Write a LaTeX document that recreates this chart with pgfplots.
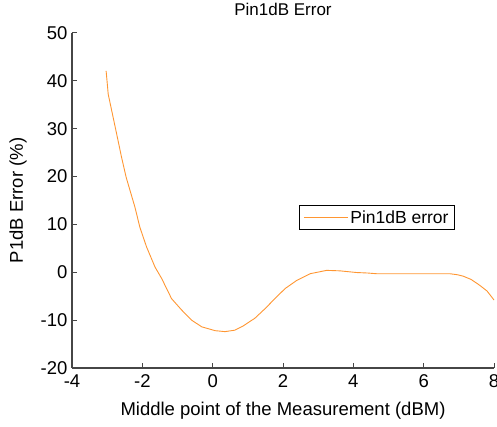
\documentclass[border=0pt]{standalone}
\usepackage{pgfplots}
\pgfplotsset{compat=1.18}
\usepackage{fontspec}
\setmainfont{Liberation Sans}
\definecolor{curve}{RGB}{255,150,50}
\definecolor{axc}{RGB}{70,70,70}
\begin{document}
\begin{tikzpicture}[x=1pt,y=1pt]
\begin{axis}[
  at={(0pt,0pt)}, anchor=south west,
  scale only axis,
  width=422pt, height=335pt,
  xmin=-4, xmax=8, ymin=-20, ymax=50,
  xtick={-4,-2,0,2,4,6,8},
  ytick={-20,-10,0,10,20,30,40,50},
  axis lines=left,
  axis line style={axc, line width=1.6pt, -},
  tick style={axc, line width=1pt},
  major tick length=5pt,
  tick align=inside,
  tick label style={font=\fontsize{18.5}{20}\selectfont, black},
  /pgf/number format/assume math mode=true,
  xticklabel style={yshift=-3pt},
  yticklabel style={xshift=-1pt},
  title={Pin1dB Error},
  title style={font=\fontsize{17}{19}\selectfont, at={(axis description cs:0.5,1)}, anchor=center, yshift=18pt},
  xlabel={Middle point of the Measurement (dBM)},
  ylabel={P1dB Error (\%)},
  label style={font=\fontsize{18.5}{20}\selectfont},
  xlabel style={at={(axis description cs:0.5,0)}, anchor=center, yshift=-43pt},
  ylabel style={at={(axis description cs:0,0.5)}, anchor=center, yshift=54pt},
  legend style={at={(0.538,0.4866)}, anchor=north west, draw=black, line width=0.8pt,
    font=\fontsize{17.5}{19}\selectfont, inner xsep=4pt, inner ysep=3pt, row sep=0pt},
  legend cell align=left,
  legend image code/.code={\draw[#1, line width=0.9pt] (0pt,0pt) -- (44pt,0pt);},
  clip=false,
]
\addplot[curve, line width=0.9pt] coordinates {
(-3.03,42.1) (-2.97,37.2) (-2.87,33.75) (-2.73,28.9) (-2.59,24.0) (-2.46,19.85)
(-2.35,17.1) (-2.21,13.6) (-2.07,9.4) (-1.88,5.3) (-1.64,1.1) (-1.45,-1.3)
(-1.17,-5.5) (-0.88,-7.9) (-0.60,-10.0) (-0.31,-11.4) (0.07,-12.2) (0.35,-12.4)
(0.63,-12.1) (0.87,-11.2) (1.20,-9.6) (1.49,-7.6) (1.77,-5.5) (2.06,-3.4)
(2.39,-1.7) (2.77,-0.3) (3.24,0.4) (3.62,0.3) (4.09,-0.05)
(4.40,-0.15) (4.66,-0.3) (5.20,-0.3) (5.80,-0.3) (6.30,-0.3) (6.74,-0.3) (6.95,-0.5)
(7.12,-0.8) (7.35,-1.5) (7.59,-2.7) (7.80,-3.9) (7.97,-5.5) (8.00,-5.8)
};
\addlegendentry{Pin1dB error}
\end{axis}
\pgfresetboundingbox
\useasboundingbox (-72pt,-59pt) rectangle (425pt,368pt);
\end{tikzpicture}
\end{document}
